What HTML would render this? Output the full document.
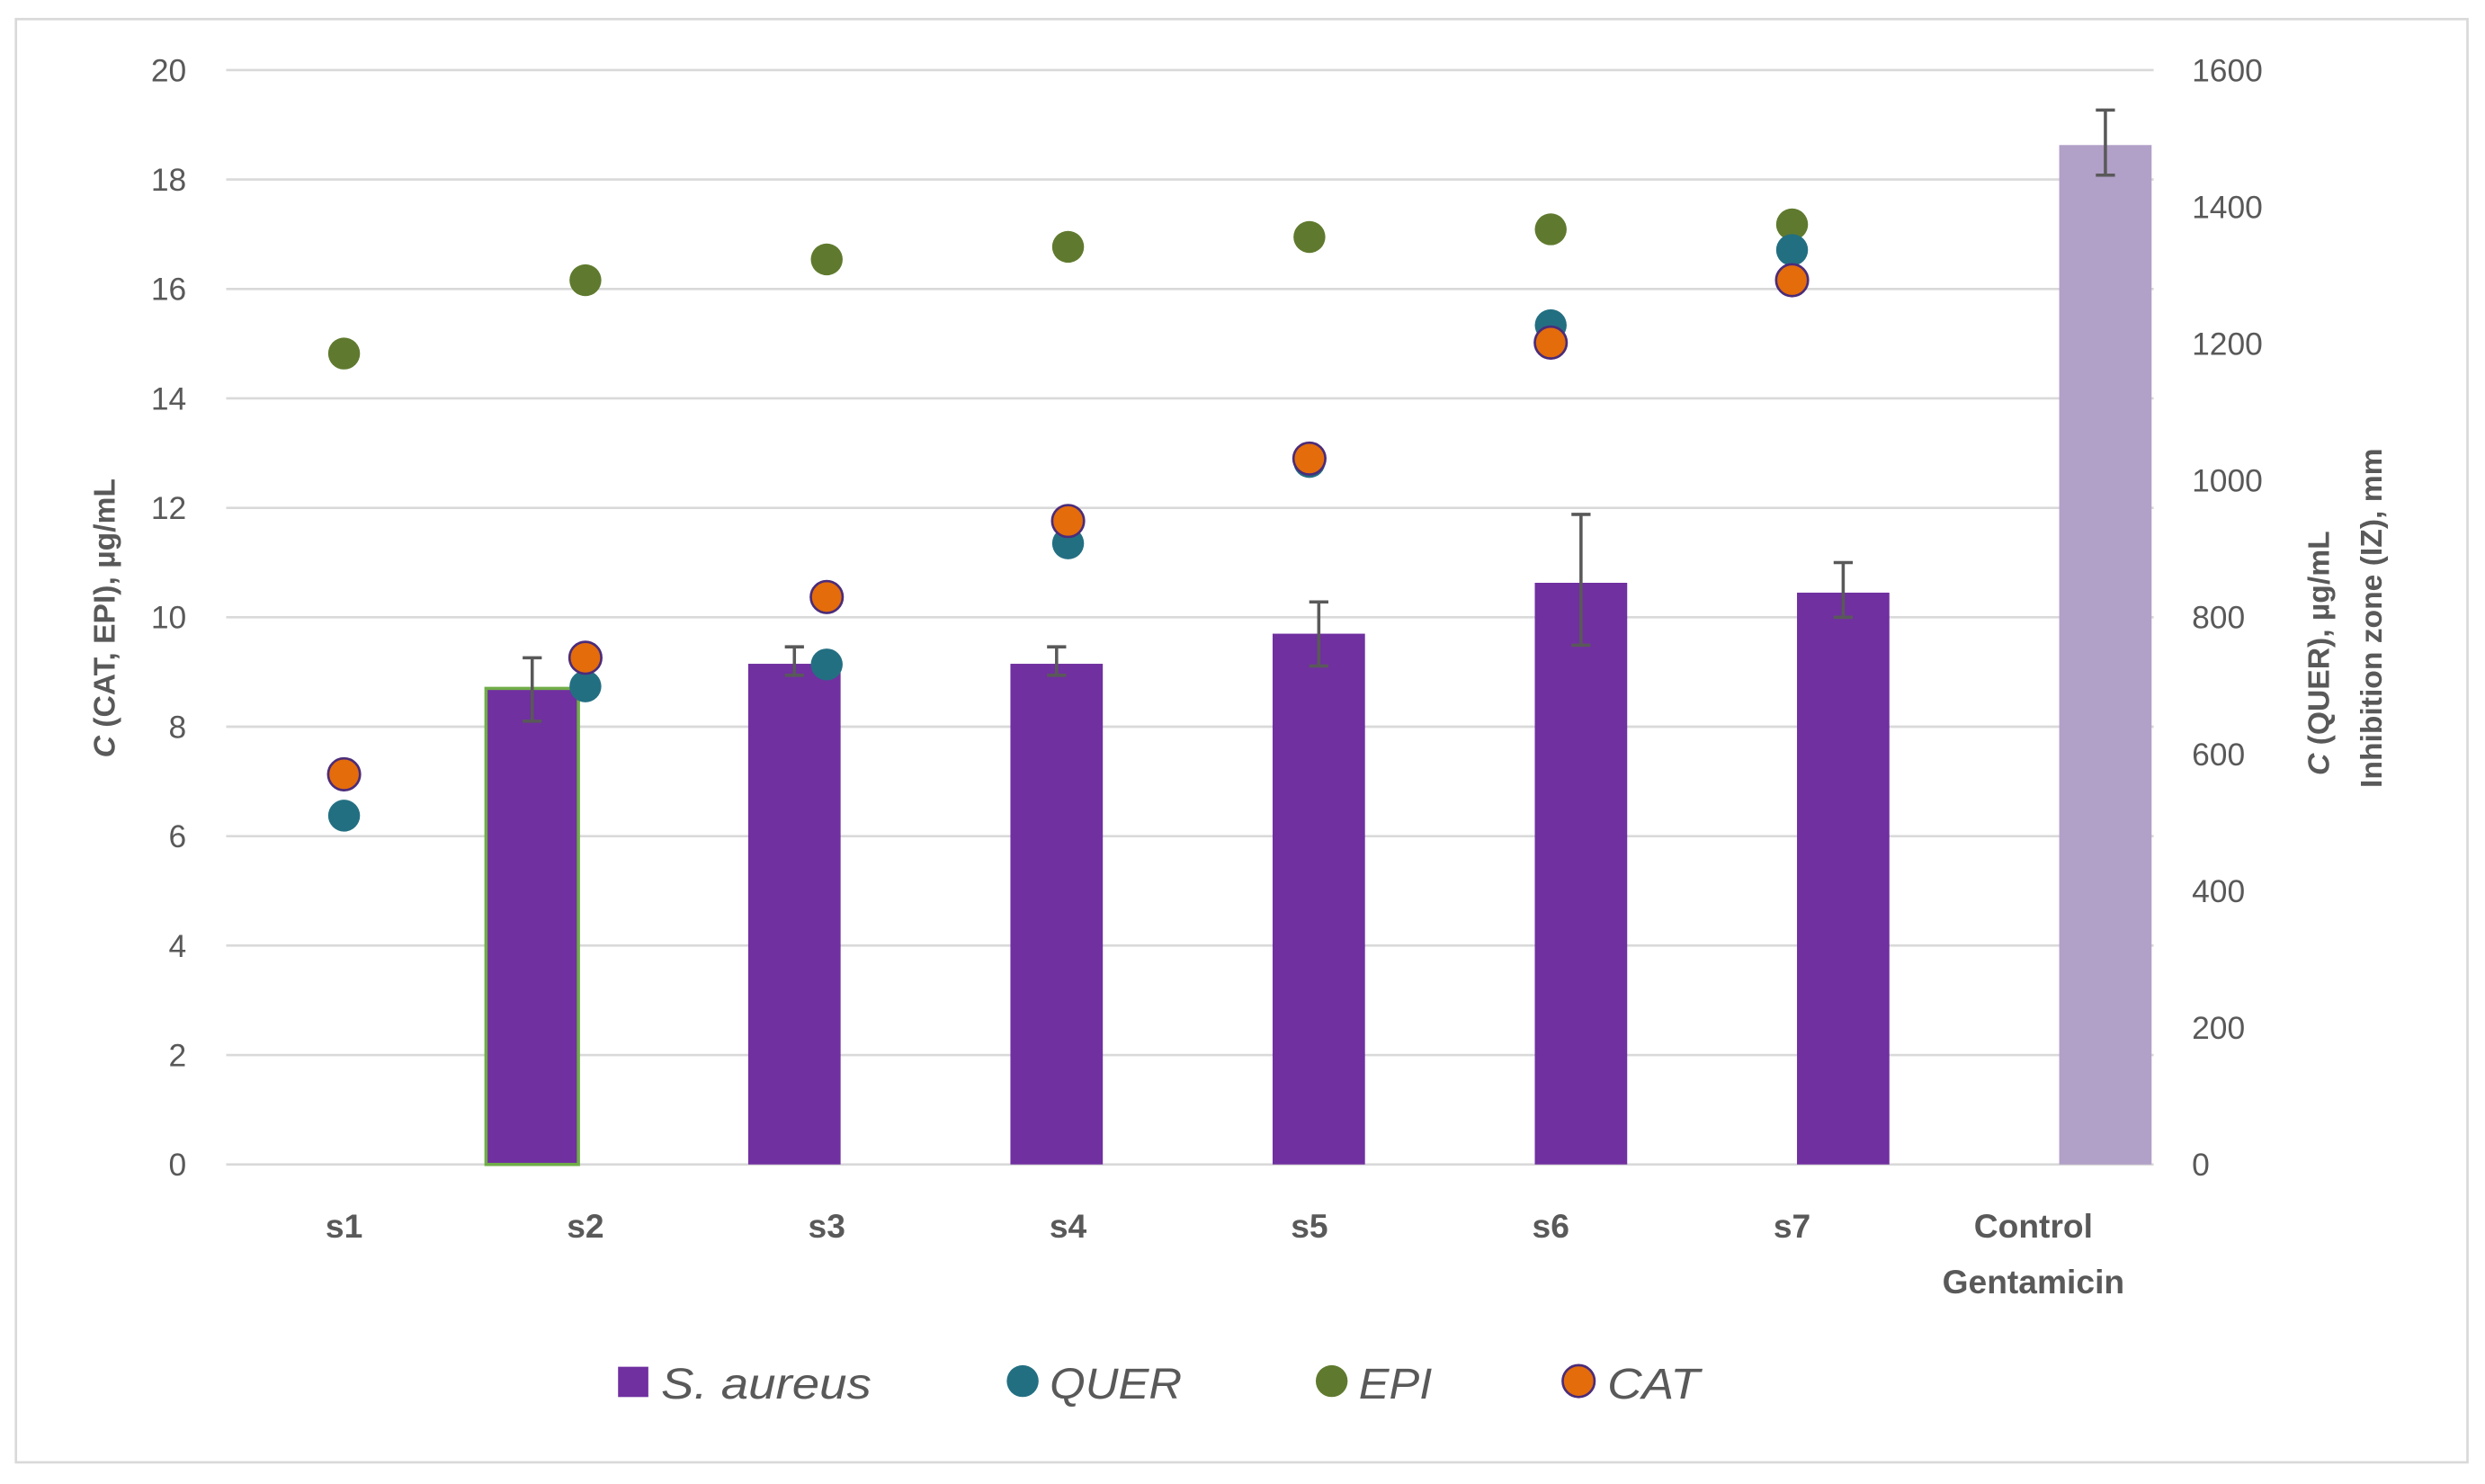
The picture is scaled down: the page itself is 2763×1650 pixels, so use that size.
<!DOCTYPE html>
<html><head><meta charset="utf-8"><style>
html,body{margin:0;padding:0;background:#fff;}
svg{display:block;font-family:"Liberation Sans",sans-serif;}
</style></head><body>
<svg id="chart" width="2763" height="1650" viewBox="0 0 1560 931.6" xmlns="http://www.w3.org/2000/svg">
<rect x="10" y="12" width="1539" height="906" fill="#fff" stroke="#d9d9d9" stroke-width="1.5"/>
<g id="grid"></g><g id="bars"></g><g id="pts"></g><g id="labels"></g>
<text transform="translate(72,388) rotate(-90)" text-anchor="middle" font-size="19" font-weight="bold" fill="#595959"><tspan font-style="italic">C</tspan> (CAT, EPI), µg/mL</text>
<text transform="translate(1462,410) rotate(-90)" text-anchor="middle" font-size="19" font-weight="bold" fill="#595959"><tspan font-style="italic">C</tspan> (QUER), µg/mL</text>
<text transform="translate(1495,388) rotate(-90)" text-anchor="middle" font-size="19" font-weight="bold" fill="#595959">Inhibition zone (IZ), mm</text>
<g font-size="27" font-style="italic" fill="#595959">
<rect x="388" y="858" width="19" height="19" fill="#7030a0"/>
<text x="415" y="878" textLength="132" lengthAdjust="spacingAndGlyphs">S. aureus</text>
<circle cx="642" cy="867" r="10" fill="#236f82"/>
<text x="659" y="878" textLength="83" lengthAdjust="spacingAndGlyphs">QUER</text>
<circle cx="836" cy="867" r="10" fill="#5f7a2e"/>
<text x="853" y="878" textLength="46" lengthAdjust="spacingAndGlyphs">EPI</text>
<circle cx="991" cy="867" r="10" fill="#e46c0a" stroke="#4b2c7a" stroke-width="1.5"/>
<text x="1009" y="878" textLength="58" lengthAdjust="spacingAndGlyphs">CAT</text>
</g>
</svg>
<script>
const categories=["s1","s2","s3","s4","s5","s6","s7","Control|Gentamicin"];
const barValues=[0,8.7,9.15,9.15,9.7,10.63,10.45,18.63];
const barErrLow=[0,8.1,8.94,8.94,9.11,9.49,10.0,18.08];
const barErrHigh=[0,9.26,9.46,9.46,10.28,11.88,11.0,19.27];
const epiValues=[14.82,16.16,16.54,16.77,16.95,17.09,17.18];
const catValues=[7.13,9.26,10.37,11.76,12.9,15.02,16.16];
const querValues=[510,699,731,908,1027,1227,1337];
const leftTicks=[0,2,4,6,8,10,12,14,16,18,20];
const rightTicks=[0,200,400,600,800,1000,1200,1400,1600];
const NS="http://www.w3.org/2000/svg";
const L=142,R=1352,T=44,B=731;
const yL=v=>B-(v/20)*(B-T);
const yR=v=>B-(v/1600)*(B-T);
const xCat=i=>216+i*151.5;
const xBar=i=>169.5+i*164.6;
function mk(g,tag,attrs){const e=document.createElementNS(NS,tag);for(const k in attrs)e.setAttribute(k,attrs[k]);document.getElementById(g).appendChild(e);return e;}
leftTicks.forEach(v=>{
 const l=mk('grid','line',{x1:L,x2:R,y1:yL(v),y2:yL(v),stroke:'#d9d9d9','stroke-width':1.5});
 
 
 const t=mk('labels','text',{x:117,y:yL(v)+7,'text-anchor':'end','font-size':20,fill:'#595959'});
 t.textContent=v;
 
 
});
rightTicks.forEach(v=>{
 const t=mk('labels','text',{x:1376,y:yR(v)+7,'font-size':20,fill:'#595959'});
 t.textContent=v;
 
 
});
categories.forEach((c,i)=>{
 const parts=c.split('|');
 parts.forEach((p,j)=>{
  const t=mk('labels','text',{x:xCat(i),y:777+j*35,'text-anchor':'middle','font-size':21,'font-weight':'bold',fill:'#595959'});
  t.textContent=p;
  
  
 });
});
barValues.forEach((v,i)=>{
 if(v<=0)return;
 const last=i===barValues.length-1;
 const b=mk('bars','rect',{x:xBar(i)-29,y:yL(v),width:58,height:B-yL(v),fill:last?'#b1a0c7':'#7030a0'});
 if(i===1){b.setAttribute('stroke','#70ad47');b.setAttribute('stroke-width','2');}
 
 
 const x=xBar(i);
 const e1=mk('bars','path',{d:`M${x},${yL(barErrHigh[i])}V${yL(barErrLow[i])}M${x-6},${yL(barErrHigh[i])}H${x+6}M${x-6},${yL(barErrLow[i])}H${x+6}`,stroke:'#595959','stroke-width':2,fill:'none'});
 
 
});
function pts(vals,yf,fill,name,stroke){
 vals.forEach((v,i)=>{
  const c=mk('pts','circle',{cx:xCat(i),cy:yf(v),r:10,fill:fill});
  if(stroke){c.setAttribute('stroke',stroke);c.setAttribute('stroke-width','1.5');}
  
  
 });
}
pts(epiValues,yL,'#5f7a2e','epi');
pts(querValues,yR,'#236f82','quer');
pts(catValues,yL,'#e46c0a','cat','#4b2c7a');
</script>
</body></html>
